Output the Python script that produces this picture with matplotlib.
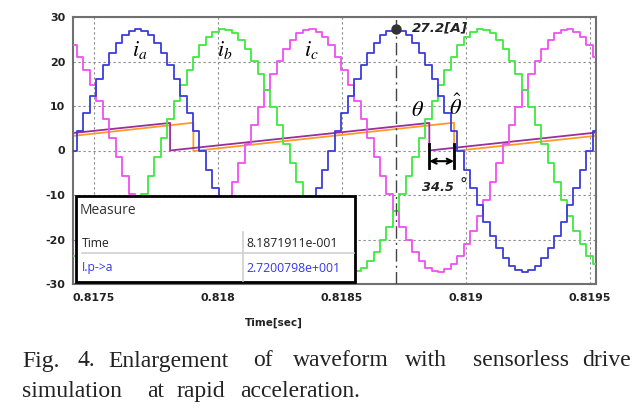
import matplotlib
matplotlib.use('Agg')
import matplotlib.pyplot as plt
import numpy as np
from matplotlib.patches import Rectangle
from matplotlib.lines import Line2D

plt.rcParams['mathtext.fontset'] = 'stix'
plt.rcParams['axes.unicode_minus'] = False

# sampled phase currents [A], one value per controller step
t_start = 0.817405
t_step = 26e-6
ia = [0, 4.3, 8.4, 12.3, 16.0, 19.2, 22.0, 24.2, 25.9, 26.9, 27.2,
      26.9, 25.9, 24.2, 22.0, 19.2, 16.0, 12.3, 8.4, 4.3, 0,
      -4.3, -8.4, -12.3, -16.0, -19.2, -22.0, -24.2, -25.9, -26.9, -27.2,
      -26.9, -25.9, -24.2, -22.0, -19.2, -16.0, -12.3, -8.4, -4.3, 0,
      4.3, 8.4, 12.3, 16.0, 19.2, 22.0, 24.2, 25.9, 26.9, 27.2,
      26.9, 25.9, 24.2, 22.0, 19.2, 16.0, 12.3, 8.4, 4.3, 0,
      -4.3, -8.4, -12.3, -16.0, -19.2, -22.0, -24.2, -25.9, -26.9, -27.2,
      -26.9, -25.9, -24.2, -22.0, -19.2, -16.0, -12.3, -8.4, -4.3, 0,
      4.3, 8.4]
ib = [-23.6, -25.4, -26.6, -27.2, -27.1, -26.3, -24.9, -22.8, -20.2, -17.1,
      -13.6, -9.8, -5.7, -1.4, 2.8, 7.0, 11.1, 14.8, 18.2, 21.1,
      23.6, 25.4, 26.6, 27.2, 27.1, 26.3, 24.9, 22.8, 20.2, 17.1,
      13.6, 9.8, 5.7, 1.4, -2.8, -7.0, -11.1, -14.8, -18.2, -21.1,
      -23.6, -25.4, -26.6, -27.2, -27.1, -26.3, -24.9, -22.8, -20.2, -17.1,
      -13.6, -9.8, -5.7, -1.4, 2.8, 7.0, 11.1, 14.8, 18.2, 21.1,
      23.6, 25.4, 26.6, 27.2, 27.1, 26.3, 24.9, 22.8, 20.2, 17.1,
      13.6, 9.8, 5.7, 1.4, -2.8, -7.0, -11.1, -14.8, -18.2, -21.1,
      -23.6, -25.4, -26.6]
ic = [23.6, 21.1, 18.2, 14.8, 11.1, 7.0, 2.8, -1.4, -5.7, -9.8,
      -13.6, -17.1, -20.2, -22.8, -24.9, -26.3, -27.1, -27.2, -26.6, -25.4,
      -23.6, -21.1, -18.2, -14.8, -11.1, -7.0, -2.8, 1.4, 5.7, 9.8,
      13.6, 17.1, 20.2, 22.8, 24.9, 26.3, 27.1, 27.2, 26.6, 25.4,
      23.6, 21.1, 18.2, 14.8, 11.1, 7.0, 2.8, -1.4, -5.7, -9.8,
      -13.6, -17.1, -20.2, -22.8, -24.9, -26.3, -27.1, -27.2, -26.6, -25.4,
      -23.6, -21.1, -18.2, -14.8, -11.1, -7.0, -2.8, 1.4, 5.7, 9.8,
      13.6, 17.1, 20.2, 22.8, 24.9, 26.3, 27.1, 27.2, 26.6, 25.4,
      23.6, 21.1, 18.2]

# rotor angle (real and estimated) [rad]
theta_t = [0.817405, 0.8178064, 0.8178064, 0.8188519, 0.8188519, 0.81953]
theta_v = [3.87, 6.2, 0.0, 6.2, 0.0, 4.07]
theta_hat_t = [0.817405, 0.8179004, 0.8179004, 0.8189515, 0.8189515, 0.81953]
theta_hat_v = [3.22, 6.25, -0.12, 6.25, -0.12, 3.35]

# cursor measurement
cursor_t = 0.8187191
cursor_i = 27.2
err_t = [0.8188519, 0.8189515]

xticks = [0.8175, 0.818, 0.8185, 0.819, 0.8195]
xlabels = ['0.8175', '0.818', '0.8185', '0.819', '0.8195']
yticks = [-30, -20, -10, 0, 10, 20, 30]

W, H = 641, 409


def px(x, y):
    return x / W, 1 - y / H


fig = plt.figure(figsize=(W / 100, H / 100), dpi=100)
ax = fig.add_axes([73 / W, 1 - 284 / H, (596 - 73) / W, (284 - 17) / H])

t = t_start + t_step * np.arange(len(ia))
ax.plot(theta_hat_t, theta_hat_v, color='#ff9a2a', lw=1.3, zorder=2)
ax.plot(theta_t, theta_v, color='#9a2f9a', lw=1.3, zorder=2)
ax.step(t, ic, where='post', color='#f050f0', lw=1.3, zorder=3)
ax.step(t, ib, where='post', color='#40e840', lw=1.3, zorder=3)
ax.step(t, ia, where='post', color='#3c3cdc', lw=1.3, zorder=3)

ax.axvline(cursor_t, color='#444444', lw=1.0, ls=(0, (9, 3, 1.5, 3)), zorder=4)
ax.plot([cursor_t], [cursor_i], 'o', color='#333333', ms=6.5, zorder=5)
ax.text(0.818782, 27.6, '27.2[A]', fontsize=9.7, fontweight='bold',
        fontstyle='italic', color='#222222', ha='left', va='center', zorder=6)

# phase labels and angle labels
ax.text(0.817686, 22.5, r'$i_a$', fontsize=16, ha='center', va='center')
ax.text(0.818028, 22.5, r'$i_b$', fontsize=16, ha='center', va='center')
ax.text(0.818375, 22.5, r'$i_c$', fontsize=16, ha='center', va='center')
ax.text(0.818806, 9.2, r'$\theta$', fontsize=16, ha='center', va='center')
ax.text(0.818956, 10.0, r'$\hat{\theta}$', fontsize=16, ha='center', va='center')

# angle error marker
for xe in err_t:
    ax.plot([xe, xe], [1.35, -3.9], color='black', lw=2.0, zorder=6)
ax.annotate('', xy=(err_t[0], -2.4), xytext=(err_t[1], -2.4),
            arrowprops=dict(arrowstyle='<->', color='black', lw=1.5,
                            shrinkA=0, shrinkB=0, mutation_scale=9), zorder=6)
ax.text(0.818888, -8.3, '34.5', fontsize=9.3, fontweight='bold', fontstyle='italic',
        color='#222222', ha='center', va='center', zorder=6)
ax.text(0.818972, -7.6, '°', fontsize=11, color='#222222', ha='left',
        va='center', zorder=6)

ax.set_xlim(0.817415, 0.819524)
ax.set_ylim(-30, 30)
ax.set_xticks(xticks)
ax.set_xticklabels(xlabels)
ax.set_yticks(yticks)
ax.grid(True, color='#888888', ls=(0, (2, 2.5)), lw=0.8)
ax.tick_params(length=0, labelsize=7.9, labelcolor='#222222')
ax.tick_params(axis='x', pad=6.5)
ax.tick_params(axis='y', pad=5.5)
for lab in ax.get_xticklabels() + ax.get_yticklabels():
    lab.set_fontweight('bold')
for sp in ax.spines.values():
    sp.set_color('#707070')
    sp.set_linewidth(1.5)

fig.text(*px(273.5, 323), 'Time[sec]', fontsize=7.5, fontweight='bold',
         color='#222222', ha='center', va='center')

# measure window
x0, y0 = px(76, 281.7)
x1, y1 = px(355, 195.7)
fig.add_artist(Rectangle((x0, y0), x1 - x0, y1 - y0, transform=fig.transFigure,
                         facecolor='white', edgecolor='black', lw=2, zorder=10))
fig.add_artist(Line2D([82 / W, 354 / W], [1 - 252.5 / H] * 2, color='#d0d0d0',
                      lw=1.2, transform=fig.transFigure, zorder=11))
fig.add_artist(Line2D([242.7 / W] * 2, [1 - 232 / H, 1 - 281 / H], color='#d0d0d0',
                      lw=1.2, transform=fig.transFigure, zorder=11))
mfont = 'Open Sans'
fig.text(*px(80, 210), 'Measure', fontsize=10, family=mfont, color='#333333',
         ha='left', va='center', zorder=12)
fig.text(*px(82, 243.5), 'Time', fontsize=8.7, family=mfont, color='#222222',
         ha='left', va='center', zorder=12)
fig.text(*px(82, 268), 'I.p->a', fontsize=8.7, family=mfont, color='#3535f0',
         ha='left', va='center', zorder=12)
fig.text(*px(246, 243.5), '8.1871911e-001', fontsize=8.8, family=mfont,
         color='#222222', ha='left', va='center', zorder=12)
fig.text(*px(246, 268), '2.7200798e+001', fontsize=8.8, family=mfont,
         color='#3535f0', ha='left', va='center', zorder=12)

# caption
cap1 = [('Fig.', 22), ('4.', 77), ('Enlargement', 108), ('of', 253),
        ('waveform', 293), ('with', 405), ('sensorless', 473), ('drive', 582)]
cap2 = [('simulation', 22), ('at', 147), ('rapid', 177), ('acceleration.', 240)]
for word, xw in cap1:
    fig.text(*px(xw, 366.5), word, fontsize=17, family='Liberation Serif',
             color='#222222', ha='left', va='baseline')
for word, xw in cap2:
    fig.text(*px(xw, 397), word, fontsize=17, family='Liberation Serif',
             color='#222222', ha='left', va='baseline')

fig.savefig('out.png', dpi=100)
